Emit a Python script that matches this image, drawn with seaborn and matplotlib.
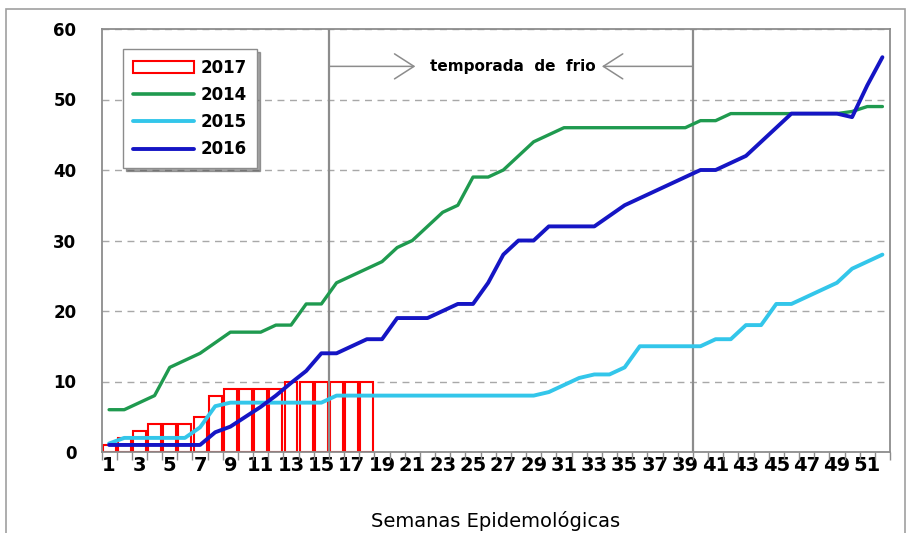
import matplotlib
matplotlib.use("Agg")
import matplotlib.pyplot as plt
import seaborn as sns
import pandas as pd
import numpy as np
from matplotlib.patches import Rectangle
from matplotlib.lines import Line2D

# ---- data ----
weeks = list(range(1, 53))
cases_2014 = [6, 6, 7, 8, 12, 13, 14, 15.5, 17, 17,
              17, 18, 18, 21, 21, 24, 25, 26, 27, 29,
              30, 32, 34, 35, 39, 39, 40, 42, 44, 45,
              46, 46, 46, 46, 46, 46, 46, 46, 46, 47,
              47, 48, 48, 48, 48, 48, 48, 48, 48, 48.3,
              49, 49]
cases_2015 = [1.2, 2, 2, 2, 2, 2, 3.5, 6.5, 7, 7,
              7, 7, 7, 7, 7, 8, 8, 8, 8, 8,
              8, 8, 8, 8, 8, 8, 8, 8, 8, 8.5,
              9.5, 10.5, 11, 11, 12, 15, 15, 15, 15, 15,
              16, 16, 18, 18, 21, 21, 22, 23, 24, 26,
              27, 28]
cases_2016 = [1, 1, 1, 1, 1, 1, 1, 2.8, 3.6, 5,
              6.4, 8, 9.8, 11.5, 14, 14, 15, 16, 16, 19,
              19, 19, 20, 21, 21, 24, 28, 30, 30, 32,
              32, 32, 32, 33.5, 35, 36, 37, 38, 39, 40,
              40, 41, 42, 44, 46, 48, 48, 48, 48, 47.5,
              52, 56]
weeks_2017 = list(range(1, 19))
cases_2017 = [1, 2, 3, 4, 4, 4, 5, 8, 9, 9, 9, 9, 10, 10, 10, 10, 10, 10]
legend_labels = ["2017", "2014", "2015", "2016"]
season_label = "temporada  de  frio"
x_title = "Semanas Epidemológicas"
season_bounds = [15.5, 39.5]

c2014, c2015, c2016, c2017 = "#1f9a4f", "#33c6ea", "#1515c4", "#ff0000"
gray = "#8c8c8c"

sns.set_theme(style="white")
plt.rcParams["font.family"] = ["DejaVu Sans"]
plt.rcParams["text.color"] = "black"
plt.rcParams["axes.labelcolor"] = "black"
plt.rcParams["xtick.color"] = "black"
plt.rcParams["ytick.color"] = "black"

fig = plt.figure(figsize=(9.11, 5.33), dpi=100)
ax = fig.add_axes([101.5 / 911, 1 - 452 / 533, (890 - 101.5) / 911, (452 - 29) / 533])

# bars 2017 (hollow)
ax.bar(weeks_2017, cases_2017, width=0.85, facecolor="white",
       edgecolor=c2017, linewidth=1.5, zorder=2)

# lines
df = pd.DataFrame({
    "week": weeks * 3,
    "cases": cases_2014 + cases_2015 + cases_2016,
    "year": ["2014"] * 52 + ["2015"] * 52 + ["2016"] * 52,
})
lw = {"2014": 2.4, "2015": 2.8, "2016": 2.8}
cols = {"2014": c2014, "2015": c2015, "2016": c2016}
for yr in ["2015", "2014", "2016"]:
    sns.lineplot(data=df[df["year"] == yr], x="week", y="cases", color=cols[yr],
                 linewidth=lw[yr], ax=ax, zorder=4, legend=False)

# season markers
for xb in season_bounds:
    ax.axvline(xb, color=gray, lw=1.6, zorder=3)
ya = 54.7
ax.annotate("", xy=(21.2, ya), xytext=(season_bounds[0], ya),
            arrowprops=dict(arrowstyle="->,head_length=0.7,head_width=0.45",
                            color=gray, lw=1.1, shrinkA=0, shrinkB=0, mutation_scale=20))
ax.annotate("", xy=(33.5, ya), xytext=(season_bounds[1], ya),
            arrowprops=dict(arrowstyle="->,head_length=0.7,head_width=0.45",
                            color=gray, lw=1.1, shrinkA=0, shrinkB=0, mutation_scale=20))
ax.text(27.6, ya, season_label, ha="center", va="center", fontsize=11,
        fontweight="bold", color="black")

# axes
ax.set_xlim(0.5, 52.5)
ax.set_ylim(0, 60)
ax.set_yticks(range(0, 61, 10))
ax.set_yticklabels([str(v) for v in range(0, 61, 10)], fontweight="bold", fontsize=12)
ax.set_xticks(range(1, 53, 2))
ax.set_xticklabels([str(v) for v in range(1, 53, 2)], fontweight="bold", fontsize=14)
ax.set_xticks(np.arange(0.5, 53, 1), minor=True)
ax.tick_params(axis="x", which="major", length=0, pad=3, bottom=True)
ax.tick_params(axis="x", which="minor", length=6, width=1, color=gray, bottom=True, direction="out")
ax.tick_params(axis="y", length=0, pad=18)
ax.set_xlabel(x_title, fontsize=14, labelpad=26)
ax.set_ylabel("")

ax.yaxis.grid(True, linestyle=(0, (5, 4)), color="#a8a8a8", lw=1)
ax.xaxis.grid(False)
ax.set_axisbelow(True)
for s in ax.spines.values():
    s.set_color(gray)
    s.set_linewidth(1.3)

# legend
handles = [Rectangle((0, 0), 1, 1, facecolor="white", edgecolor=c2017, lw=1.5),
           Line2D([], [], color=c2014, lw=2.6),
           Line2D([], [], color=c2015, lw=2.8),
           Line2D([], [], color=c2016, lw=2.8)]
leg = ax.legend(handles, legend_labels, loc="upper left", bbox_to_anchor=(0.027, 0.953),
                borderaxespad=0, frameon=True, fancybox=False, shadow=True,
                edgecolor=gray, prop={"weight": "bold", "size": 12},
                handlelength=3.7, labelspacing=0.55, handletextpad=0.4, borderpad=0.6)
leg.get_frame().set_linewidth(1.0)
leg.set_zorder(6)

# outer chart frame
fig.patches.append(Rectangle((6 / 911, -0.01), (905 - 6) / 911, (533 - 9) / 533 + 0.01,
                             transform=fig.transFigure, fill=False,
                             edgecolor="#a0a0a0", lw=1.2))

fig.savefig("out.png", dpi=100)
